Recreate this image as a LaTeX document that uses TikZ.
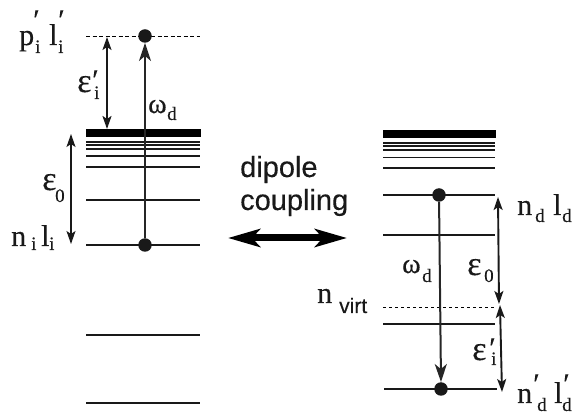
\documentclass[tikz,border=0pt]{standalone}
\usepackage{fontspec}
\setmainfont[FakeBold=0.35]{Liberation Serif}
\newfontfamily\lsans[FakeBold=0.25]{Liberation Sans}
\usetikzlibrary{arrows.meta}
\tikzset{
 lev/.style={line width=1.5pt,black!90},
 dotm/.style={circle,fill=black!90,inner sep=0pt,minimum size=13.5pt},
 dbl/.style={{Stealth[length=13pt,width=9pt,inset=3pt]}-{Stealth[length=13pt,width=9pt,inset=3pt]},line width=1.9pt,black!90},
 sgl/.style={-{Stealth[length=18pt,width=12pt,inset=5pt]},line width=2pt,black!85},
 lab/.style={inner sep=0pt,anchor=base west,black!90,font=\fontsize{30}{32}\selectfont},
 elab/.style={inner sep=0pt,anchor=base west,black!90,font=\fontsize{34}{36}\selectfont},
 omg/.style={inner sep=0pt,anchor=base west,black!90,font=\fontsize{28}{30}\selectfont},
 sub/.style={inner sep=0pt,anchor=base west,black!90,font=\fontsize{19}{20}\selectfont},
 prm/.style={inner sep=0pt,anchor=base west,black!90,font=\fontsize{30}{30}\selectfont},
 txt/.style={inner sep=0pt,anchor=base west,black!90,font=\lsans\fontsize{29}{33}\selectfont}
}
\newcommand{\lv}[3]{\draw[lev] (#1,#3) -- (#2,#3);}
\begin{document}
\begin{tikzpicture}[x=1pt,y=-1pt]
\useasboundingbox (0,0) rectangle (574,414);
% left ladder
\draw[line width=.9pt,dash pattern=on 4pt off 2.5pt] (86,36) -- (200,36);
\fill[black] (86,129) rectangle (201,137);
\foreach \y in {142,145,149,156,167,200,245,335,403}{\lv{86}{200}{\y}}
% right ladder
\fill[black] (383,130) rectangle (496,138);
\foreach \y in {143,146,150,157.5,168,195,235,324}{\lv{383}{495}{\y}}
\draw[lev] (384,389) -- (497,389);
\draw[line width=.9pt,dash pattern=on 3pt off 3pt] (383,307) -- (495,307);
% nodes
\node[dotm] (a) at (145,36) {};
\node[dotm] (b) at (145,245) {};
\node[dotm] (c) at (439,195) {};
\node[dotm] (d) at (441,389) {};
\draw[sgl] (b) -- (a.south);
\draw[sgl] (c) -- (d.north);
% energy arrows
\coordinate (e1) at (107,37); \coordinate (e2) at (107,129);
\draw[dbl] (e1) -- (e2);
\coordinate (e3) at (71,134); \coordinate (e4) at (71,244);
\draw[dbl,line width=1.4pt] (e3) -- (e4);
\coordinate (e5) at (498,197); \coordinate (e6) at (499,304);
\draw[dbl] (e5) -- (e6);
\coordinate (e7) at (500,305); \coordinate (e8) at (502,392);
\draw[dbl] (e7) -- (e8);
% big double arrow
\coordinate (f1) at (228,238); \coordinate (f2) at (347,238);
\draw[{Stealth[length=32pt,width=18pt,inset=8pt]}-{Stealth[length=32pt,width=18pt,inset=8pt]},line width=7pt] (f1) -- (f2);
% labels
\node[txt] (t1) at (240,177) {dipole};
\node[txt] (t2) at (240,210) {coupling};
\node[lab] (l1) at (19,45) {p};
\node[sub] (l1a) at (35,53) {i};
\node[lab] (l1b) at (49,45) {l};
\node[sub] (l1c) at (58,53) {i};
\node[prm] (l1d) at (33,30) {′};
\node[prm] (l1e) at (58,30) {′};
\node[elab] (eps1) at (77,92) {ε};
\node[sub] (eps1a) at (94,99) {i};
\node[prm] (eps1b) at (92,90) {′};
\node[omg] (om1) at (148,113) {ω};
\node[sub] (om1a) at (167,120) {d};
\node[elab] (eps2) at (42,190) {ε};
\node[sub] (eps2a) at (55,202) {0};
\node[lab] (n1) at (11,246) {n};
\node[sub] (n1a) at (31,250) {i};
\node[lab] (n1b) at (41,246) {l};
\node[sub] (n1c) at (49,250) {i};
\node[omg] (om2) at (402,273) {ω};
\node[sub] (om2a) at (422,282) {d};
\node[elab] (eps3) at (467,275) {ε};
\node[sub] (eps3a) at (484,282) {0};
\node[elab] (eps4) at (472,360) {ε};
\node[sub] (eps4a) at (491,365) {i};
\node[prm] (eps4b) at (489,358) {′};
\node[lab] (n2) at (517,215) {n};
\node[sub] (n2a) at (535,222) {d};
\node[lab] (n2b) at (553,215) {l};
\node[sub] (n2c) at (562,222) {d};
\node[lab] (n3) at (517,403) {n};
\node[sub] (n3a) at (537,411) {d};
\node[lab] (n3b) at (554,403) {l};
\node[sub] (n3c) at (562,411) {d};
\node[prm] (n3d) at (533,394) {′};
\node[prm] (n3e) at (563,394) {′};
\node[lab] (v) at (317,303) {n};
\node[inner sep=0pt,anchor=base west,black!90,font=\lsans\fontsize{21}{22}\selectfont] (va) at (339,313) {virt};
\end{tikzpicture}
\end{document}
